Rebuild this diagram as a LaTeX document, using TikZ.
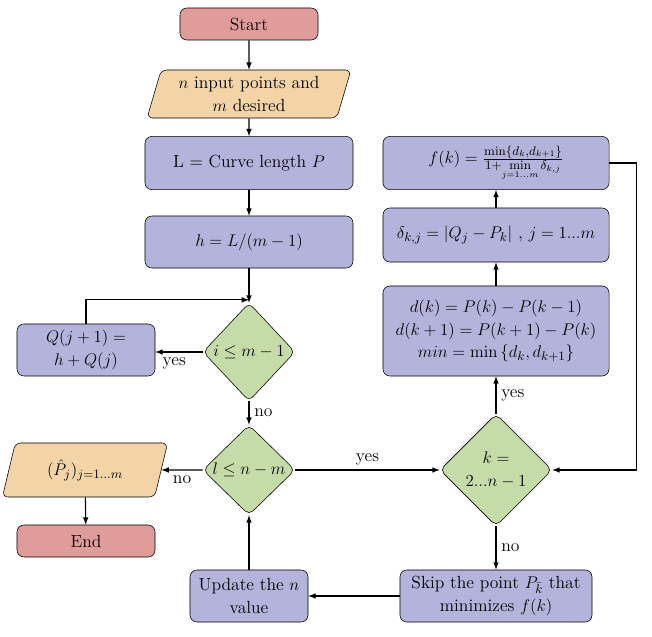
\documentclass[tikz,border=0pt]{standalone}
\usepackage{amssymb,amsmath}
\usepackage{tikz}
\usetikzlibrary{arrows}
\usetikzlibrary{shapes.geometric,positioning}
\tikzset{font={\fontsize{12.5pt}{16}\selectfont}}
\usepackage{xcolor}
\definecolor{startred}{RGB}{224,155,155}
\definecolor{ioorange}{RGB}{242,212,166}
\definecolor{procblue}{RGB}{179,179,219}
\definecolor{decgreen}{RGB}{197,219,168}

\begin{document}
\begin{tikzpicture}[x=0.025cm,y=-0.025cm,
start stop/.style={draw,rounded corners=5pt,fill=startred,minimum width=3.45cm,minimum height=0.8cm,align=center},
io/.style={draw,trapezium,trapezium left angle=73,trapezium right angle=107,trapezium stretches=true,rounded corners=4pt,fill=ioorange,align=center,inner sep=1pt},
process/.style={draw,rounded corners=5pt,fill=procblue,align=center,inner sep=2pt},
decision/.style={draw,diamond,aspect=1,rounded corners=4pt,fill=decgreen,align=center,inner sep=0pt},
arrow/.style={-latex,thick}
]
\useasboundingbox (0,0) rectangle (652,637);

\node[start stop] (start) at (249,24) {Start};
\node[io,minimum width=5.1cm,minimum height=1.2cm] (in) at (249,94) {$n$ input points and\\ $m$ desired};
\node[process,minimum width=5.2cm,minimum height=1.33cm] (len) at (249,163) {L = Curve length $P$};
\node[process,minimum width=5.2cm,minimum height=1.3cm] (step) at (249,242) {$h=L/(m-1)$};
\node[decision,minimum width=2.3cm,minimum height=2.45cm] (i) at (249,352) {$i\leq m-1$};
\node[process,minimum width=3.45cm,minimum height=1.3cm] (q) at (86,350) {$Q(j+1)=$\\ $h+Q(j)$};
\node[decision,minimum width=2.3cm,minimum height=2.25cm] (l) at (249,470) {$l\leq n-m$};
\node[io,minimum width=4.15cm,minimum height=1.35cm] (out) at (85,470) {$(\hat{P}_j)_{j=1...m}$};
\node[start stop] (end) at (86,541) {End};
\node[process,minimum width=2.95cm,minimum height=1.3cm] (upd) at (249,596) {Update the $n$\\ value};
\node[decision,minimum width=2.8cm,minimum height=2.8cm] (k) at (496,470) {$k=$\\ $2...n-1$};
\node[process,minimum width=4.8cm,minimum height=1.3cm] (skip) at (496,596) {Skip the point $P_{\bar{k}}$ that\\ minimizes $f(k)$};
\node[process,minimum width=5.65cm,minimum height=2.25cm] (d) at (496,331) {$d(k)=P(k)-P(k-1)$\\ $d(k+1)=P(k+1)-P(k)$\\ $min=\min\left\{d_k,d_{k+1}\right\}$};
\node[process,minimum width=5.65cm,minimum height=1.35cm] (delta) at (496,235) {$\delta_{k,j}=\left|Q_j-P_k\right|$ , $j=1...m$};
\node[process,minimum width=5.65cm,minimum height=1.33cm] (f) at (496,163) {$f(k)=\frac{\min\{d_k,d_{k+1}\}}{1+\min\limits_{j=1...m}\delta_{k,j}}$};

\draw[arrow] (start) -- (in);
\draw[arrow] (in) -- (len);
\draw[arrow] (len) -- (step);
\draw[arrow] (step) -- (i);
\draw[arrow] (q.north) |- ([yshift=2pt]i.north);
\draw[arrow] (i.west) -- node[below,pos=0.6] {yes} (i.west -| q.east);
\draw[arrow] (i) -- node[right] {no} (l);
\draw[arrow] (l) -- node[below,pos=0.5] {no} (out);
\draw[arrow] (out) -- (end);
\draw[arrow] (l) -- node[above] {yes} (k);
\draw[arrow] (k) -- node[right] {yes} (d);
\draw[arrow] (d) -- (delta);
\draw[arrow] (delta) -- (f);
\draw[arrow] (f.east) -- ++(27,0) |- (k.east);
\draw[arrow] (k) -- node[right] {no} (skip);
\draw[arrow] (skip) -- (upd);
\draw[arrow] (upd) -- (l);

\end{tikzpicture}
\end{document}
